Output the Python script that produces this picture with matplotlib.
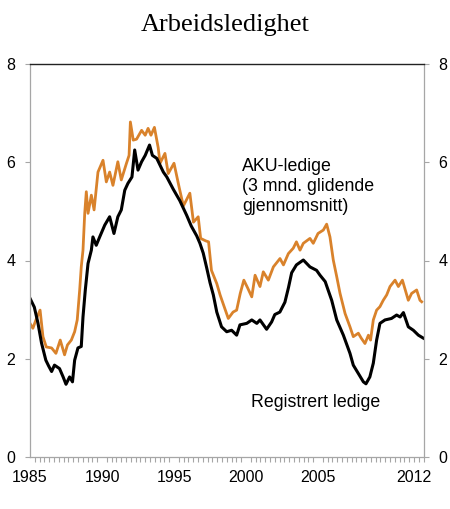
import numpy as np
import matplotlib
matplotlib.use("Agg")
import matplotlib.pyplot as plt
from matplotlib.ticker import MultipleLocator

# ── Data (per cent of labour force) ───────────────────────────────────────────

reg_years = [1985.0, 1985.3, 1985.55, 1985.8, 1986.1, 1986.3, 1986.5, 1986.7,
             1987.05, 1987.3, 1987.5, 1987.75, 1987.95, 1988.1, 1988.33, 1988.56,
             1988.68, 1988.84, 1989.03, 1989.26, 1989.37, 1989.6, 1989.84, 1990.19,
             1990.53, 1990.83, 1991.1, 1991.34, 1991.58, 1991.8, 1992.08, 1992.27,
             1992.5, 1992.75, 1993.0, 1993.3, 1993.5, 1993.8, 1994.26, 1994.5,
             1994.95, 1995.4, 1995.88, 1996.2, 1996.58, 1996.8, 1997.03, 1997.27,
             1997.5, 1997.73, 1997.97, 1998.3, 1998.66, 1999.0, 1999.35, 1999.58,
             2000.05, 2000.4, 2000.75, 2000.97, 2001.43, 2001.78, 2002.0, 2002.35,
             2002.7, 2002.95, 2003.17, 2003.5, 2003.98, 2004.44, 2004.9, 2005.14,
             2005.5, 2005.7, 2005.95, 2006.3, 2006.76, 2007.22, 2007.45, 2007.8,
             2008.15, 2008.33, 2008.6, 2008.84, 2009.07, 2009.3, 2009.65, 2010.1,
             2010.46, 2010.7, 2010.93, 2011.27, 2011.62, 2011.97, 2012.31]
reg_values = [3.23, 3.05, 2.73, 2.32, 1.97, 1.85, 1.74, 1.87,
              1.80, 1.63, 1.48, 1.63, 1.53, 1.97, 2.22, 2.25,
              2.85, 3.40, 3.94, 4.21, 4.48, 4.31, 4.48, 4.72,
              4.89, 4.55, 4.89, 5.03, 5.43, 5.57, 5.70, 6.25,
              5.84, 6.01, 6.14, 6.35, 6.14, 6.08, 5.80, 5.70,
              5.45, 5.22, 4.92, 4.70, 4.50, 4.35, 4.15, 3.85,
              3.55, 3.30, 2.95, 2.65, 2.55, 2.58, 2.48, 2.69,
              2.72, 2.79, 2.72, 2.79, 2.60, 2.75, 2.90, 2.95,
              3.15, 3.45, 3.75, 3.91, 4.01, 3.87, 3.80, 3.70,
              3.57, 3.40, 3.19, 2.79, 2.48, 2.11, 1.87, 1.70,
              1.53, 1.49, 1.63, 1.91, 2.38, 2.72, 2.79, 2.82,
              2.89, 2.85, 2.94, 2.65, 2.58, 2.48, 2.42]

aku_years = [1985.0, 1985.2, 1985.45, 1985.7, 1985.9, 1986.13, 1986.5, 1986.8,
             1987.1, 1987.4, 1987.6, 1987.87, 1988.1, 1988.28, 1988.45, 1988.56,
             1988.68, 1988.8, 1988.91, 1989.03, 1989.26, 1989.45, 1989.72, 1990.07,
             1990.3, 1990.53, 1990.76, 1991.1, 1991.34, 1991.7, 1991.88, 1991.97,
             1992.17, 1992.4, 1992.75, 1993.0, 1993.2, 1993.4, 1993.64, 1993.9,
             1994.03, 1994.37, 1994.6, 1995.0, 1995.35, 1995.65, 1996.1, 1996.35,
             1996.68, 1996.85, 1997.2, 1997.4, 1997.6, 1997.97, 1998.2, 1998.4,
             1998.77, 1999.1, 1999.35, 1999.6, 1999.85, 2000.1, 2000.4, 2000.63,
             2000.97, 2001.2, 2001.55, 2001.9, 2002.36, 2002.6, 2002.94, 2003.28,
             2003.5, 2003.75, 2003.98, 2004.44, 2004.67, 2005.0, 2005.37, 2005.6,
             2005.83, 2006.06, 2006.3, 2006.53, 2006.88, 2007.22, 2007.45, 2007.8,
             2008.0, 2008.26, 2008.5, 2008.65, 2008.84, 2009.07, 2009.3, 2009.53,
             2009.77, 2010.0, 2010.35, 2010.58, 2010.86, 2011.1, 2011.27, 2011.5,
             2011.85, 2012.08, 2012.2]
aku_values = [2.72, 2.62, 2.82, 2.99, 2.45, 2.24, 2.22, 2.11,
              2.38, 2.08, 2.28, 2.38, 2.55, 2.79, 3.40, 3.87,
              4.21, 4.96, 5.40, 4.96, 5.33, 5.03, 5.80, 6.04,
              5.60, 5.80, 5.53, 6.01, 5.64, 5.98, 6.14, 6.82,
              6.45, 6.47, 6.65, 6.55, 6.69, 6.55, 6.71, 6.30,
              5.98, 6.18, 5.77, 5.98, 5.50, 5.11, 5.37, 4.78,
              4.89, 4.45, 4.40, 4.38, 3.80, 3.53, 3.30, 3.13,
              2.82, 2.95, 2.99, 3.33, 3.60, 3.45, 3.26, 3.70,
              3.47, 3.77, 3.60, 3.87, 4.04, 3.91, 4.14, 4.25,
              4.38, 4.21, 4.35, 4.45, 4.35, 4.55, 4.62, 4.74,
              4.48, 4.01, 3.67, 3.33, 2.92, 2.65, 2.45, 2.52,
              2.42, 2.31, 2.48, 2.38, 2.79, 2.99, 3.06, 3.19,
              3.30, 3.47, 3.60, 3.47, 3.60, 3.36, 3.19, 3.33,
              3.40, 3.19, 3.16]

year_ticks  = [1985, 1990, 1995, 2000, 2005, 2011.65]
year_labels = ["1985", "1990", "1995", "2000", "2005", "2012"]
y_ticks     = [0, 2, 4, 6, 8]

# ── Figure ────────────────────────────────────────────────────────────────────

plt.rcParams["font.family"] = ["Liberation Sans", "DejaVu Sans"]

GREY   = "#A6A6A6"
ORANGE = "#D9822B"

fig = plt.figure(figsize=(4.5, 5.09), dpi=100)
ax = fig.add_axes([30 / 450, 1 - 457 / 509, 394 / 450, 393 / 509])

ax.plot(aku_years, aku_values, color=ORANGE, lw=2.0, solid_joinstyle="round")
ax.plot(reg_years, reg_values, color="black", lw=2.2, solid_joinstyle="round")

ax.set_xlim(1985.0, 2012.36)
ax.set_ylim(0, 8)

ax.set_xticks(year_ticks)
ax.set_xticklabels(year_labels, fontsize=11.5)
ax.xaxis.set_minor_locator(MultipleLocator(1 / 3))
ax.tick_params(axis="x", which="both", direction="out", length=3.4,
               width=0.8, color=GREY, pad=9)
ax.tick_params(axis="x", which="major", length=0)

ax.set_yticks(y_ticks)
ax.tick_params(axis="y", direction="out", length=3.6, width=0.8, color=GREY,
               labelsize=11.5, pad=7, left=True, right=True,
               labelleft=True, labelright=True)

for side in ["left", "right", "bottom"]:
    ax.spines[side].set_color(GREY)
    ax.spines[side].set_linewidth(0.9)
ax.spines["top"].set_color("#222222")
ax.spines["top"].set_linewidth(1.0)

ax.text(1999.75, 6.08, "AKU-ledige\n(3 mnd. glidende\ngjennomsnitt)",
        fontsize=12.8, va="top", ha="left", linespacing=1.22)
ax.text(2000.35, 1.1, "Registrert ledige", fontsize=12.8, va="center", ha="left")

fig.text(0.5, 1 - 25 / 509, "Arbeidsledighet", ha="center", va="center",
         fontsize=19, family="Liberation Serif")

fig.savefig("out.png", dpi=100)
